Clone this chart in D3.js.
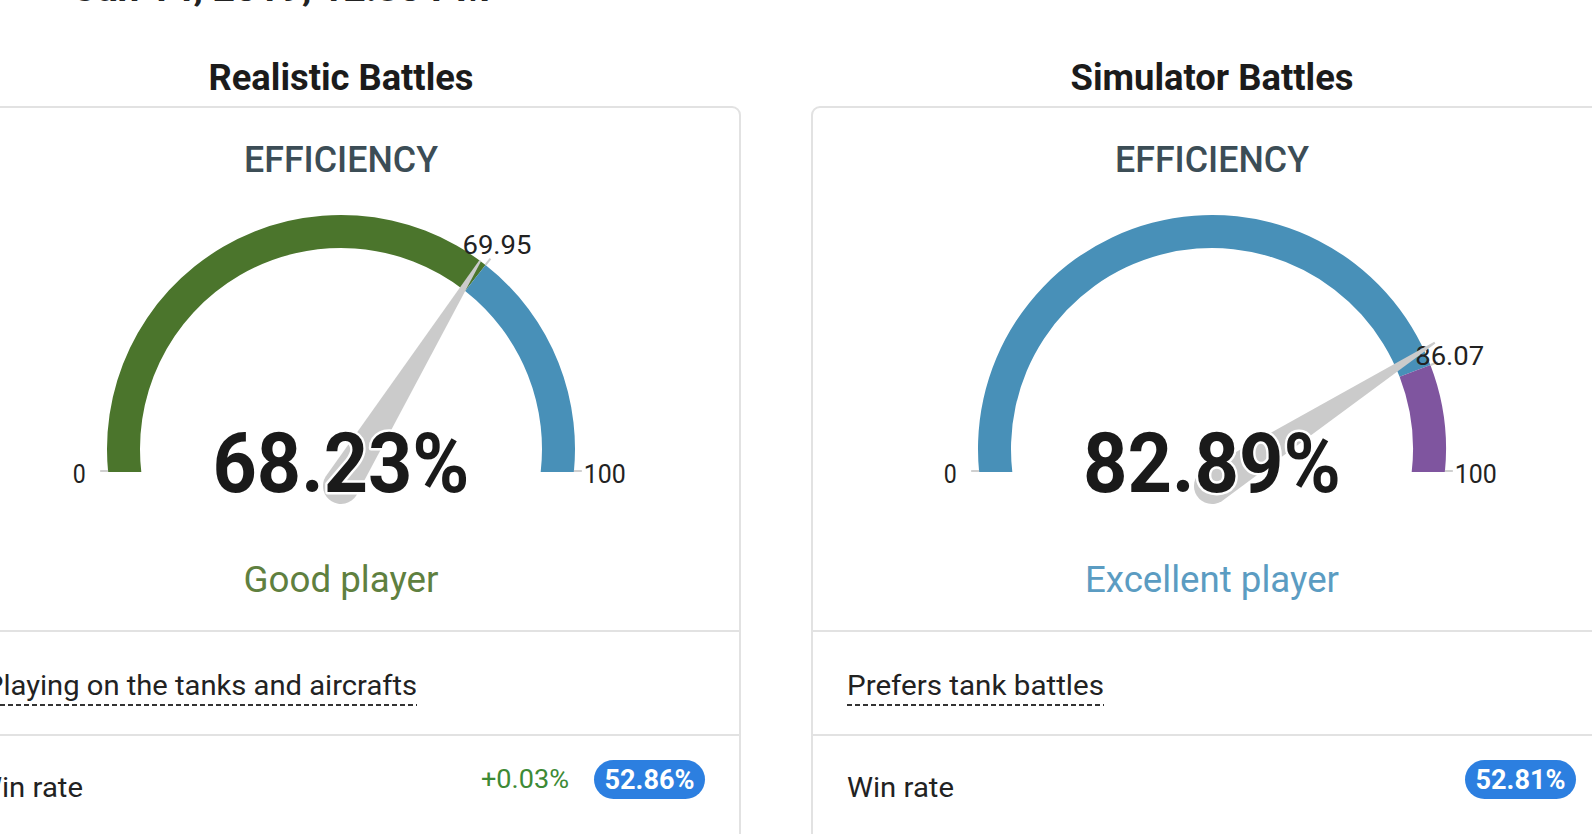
<!DOCTYPE html>
<html>
<head>
<meta charset="utf-8">
<script src="https://cdn.jsdelivr.net/npm/d3@7/dist/d3.min.js"></script>
<style>
  html, body { margin: 0; padding: 0; background: #ffffff; overflow: hidden; }
  svg { display: block; font-family: Roboto, "Noto Sans", Arial, sans-serif; }
</style>
</head>
<body>
<script>
// ---------- data ----------
const timestamp = "Jan 14, 2019, 12:30 PM";
const modes = ["Realistic Battles", "Simulator Battles"];
const efficiency = [68.23, 82.89];          // needle / big number
const thresholds = [69.95, 86.07];          // band boundary (next tier)
const axisTicks = [0, 100];                 // gauge min / max
const lowerTier = ["good", "excellent"];
const upperTier = ["excellent", "outstanding"];
const ratings = ["Good player", "Excellent player"];
const ratingTier = ["good", "excellent"];
const preferences = ["Playing on the tanks and aircrafts", "Prefers tank battles"];
const winRates = [52.86, 52.81];
const winRateDeltas = ["+0.03%", ""];

// ---------- styles ----------
const tierColor = { good: "#4b752c", excellent: "#4890b8", outstanding: "#7f559f" };
const ratingColor = { good: "#5f803f", excellent: "#5b9cc2" };

const W = 1592, H = 834;
const svg = d3.select("body").append("svg").attr("width", W).attr("height", H);

// timestamp (mostly cut off at the top, as in the reference)
svg.append("text").attr("x", 75).attr("y", 1)
  .attr("font-size", 34).attr("font-weight", 700).attr("fill", "#222")
  .attr("textLength", 415).attr("lengthAdjust", "spacingAndGlyphs")
  .text(timestamp);

const cards = [
  { cx: 341, left: -20, right: 740, titleW: 265, effW: 194, prefStart: -15, prefW: 432, winStart: -24 },
  { cx: 1212, left: 812, right: 1640, titleW: 283, effW: 194, prefStart: 847, prefW: 257, winStart: 847 }
];
const bigW = [257, 258];
const ratingW = [195, 254];

const gaugeCY = 449, R = 234, r = 201, bottomCut = 23;
const needleCY = 486, needleLen = 265, needleBase = 36;

const deg = Math.PI / 180;
const angle = d3.scaleLinear().domain([0, 100]).range([-95.6 * deg, 95.6 * deg]);
const needleAngle = d3.scaleLinear().domain([0, 100]).range([-87, 87]);
const arc = d3.arc().innerRadius(r).outerRadius(R);

const defs = svg.append("defs");
defs.append("clipPath").attr("id", "flatcut")
  .append("rect").attr("x", -400).attr("y", -400).attr("width", 800).attr("height", 400 + bottomCut);

modes.forEach((mode, i) => {
  const c = cards[i];
  const g = svg.append("g");

  // title
  g.append("text").attr("x", c.cx).attr("y", 90).attr("text-anchor", "middle")
    .attr("font-size", 36).attr("font-weight", 700).attr("fill", "#1b1b1b")
    .attr("textLength", c.titleW).attr("lengthAdjust", "spacingAndGlyphs")
    .text(mode);

  // card
  g.append("rect").attr("x", c.left).attr("y", 107).attr("width", c.right - c.left)
    .attr("height", 800).attr("rx", 8).attr("fill", "#fff")
    .attr("stroke", "#e2e2e2").attr("stroke-width", 2);
  [631, 735].forEach(y => {
    g.append("line").attr("x1", c.left).attr("x2", c.right).attr("y1", y).attr("y2", y)
      .attr("stroke", "#e2e2e2").attr("stroke-width", 2);
  });

  g.append("text").attr("x", c.cx).attr("y", 172).attr("text-anchor", "middle")
    .attr("font-size", 36).attr("font-weight", 500).attr("fill", "#3c4d56")
    .attr("textLength", c.effW).attr("lengthAdjust", "spacingAndGlyphs")
    .text("EFFICIENCY");

  // gauge bands (flat bottom ends)
  const gg = g.append("g").attr("transform", `translate(${c.cx},${gaugeCY})`);
  const bands = [
    { from: 0, to: thresholds[i], tier: lowerTier[i] },
    { from: thresholds[i], to: 100, tier: upperTier[i] }
  ];
  gg.append("g").attr("clip-path", "url(#flatcut)")
    .selectAll("path.band").data(bands).join("path").attr("class", "band")
    .attr("d", d => arc({
      startAngle: d.from === 0 ? angle(d.from) - 3 * deg : angle(d.from),
      endAngle: d.to === 100 ? angle(d.to) + 3 * deg : angle(d.to)
    }))
    .attr("fill", d => tierColor[d.tier]);

  // ticks + labels
  const tickVals = [axisTicks[0], thresholds[i], axisTicks[1]];
  gg.selectAll("line.tick").data(tickVals).join("line").attr("class", "tick")
    .attr("x1", d => R * Math.sin(angle(d))).attr("y1", d => Math.min(-R * Math.cos(angle(d)), bottomCut - 1))
    .attr("x2", d => (R + 8) * Math.sin(angle(d))).attr("y2", d => Math.min(-(R + 8) * Math.cos(angle(d)), bottomCut - 1))
    .attr("stroke", "#cfcfcf").attr("stroke-width", 2);
  gg.selectAll("text.tl").data(tickVals).join("text").attr("class", "tl")
    .attr("x", d => 259 * Math.sin(angle(d)) + (d === 0 ? -4 : d === 100 ? 6 : -4))
    .attr("y", d => -259 * Math.cos(angle(d)) + 9)
    .attr("text-anchor", "middle").attr("font-size", 26).attr("fill", "#222")
    .attr("textLength", d => d === 0 ? 13 : d === 100 ? 42 : 69)
    .attr("lengthAdjust", "spacingAndGlyphs")
    .text(d => d3.format("")(d));

  // needle
  const ng = g.append("g").attr("transform", `translate(${c.cx},${needleCY}) rotate(${needleAngle(efficiency[i])})`);
  const hb = needleBase / 2;
  ng.append("path")
    .attr("d", `M${-hb},0 L-1,${-needleLen} L1,${-needleLen} L${hb},0 A${hb},${hb} 0 0 1 ${-hb},0 Z`)
    .attr("fill", "#cbcbcb");

  // big value
  g.append("text").attr("x", c.cx).attr("y", 492).attr("text-anchor", "middle")
    .attr("font-size", 84).attr("font-weight", 700).attr("fill", "#1a1a1a")
    .attr("stroke", "#fff").attr("stroke-width", 5).attr("paint-order", "stroke")
    .attr("stroke-linejoin", "round")
    .attr("textLength", bigW[i]).attr("lengthAdjust", "spacingAndGlyphs")
    .text(d3.format(".2f")(efficiency[i]) + "%");

  // rating
  g.append("text").attr("x", c.cx).attr("y", 592).attr("text-anchor", "middle")
    .attr("font-size", 36).attr("fill", ratingColor[ratingTier[i]])
    .attr("textLength", ratingW[i]).attr("lengthAdjust", "spacingAndGlyphs")
    .text(ratings[i]);

  // preference
  g.append("text").attr("x", c.prefStart).attr("y", 695)
    .attr("font-size", 28).attr("fill", "#222")
    .attr("textLength", c.prefW).attr("lengthAdjust", "spacingAndGlyphs")
    .text(preferences[i]);
  g.append("line").attr("x1", Math.max(c.prefStart, 0)).attr("x2", c.prefStart + c.prefW)
    .attr("y1", 705).attr("y2", 705).attr("stroke", "#333").attr("stroke-width", 2)
    .attr("stroke-dasharray", "5,3");

  // win rate
  g.append("text").attr("x", c.winStart).attr("y", 797)
    .attr("font-size", 28).attr("fill", "#222")
    .attr("textLength", 107).attr("lengthAdjust", "spacingAndGlyphs")
    .text("Win rate");
  if (winRateDeltas[i]) {
    g.append("text").attr("x", 569).attr("y", 788).attr("text-anchor", "end")
      .attr("font-size", 25).attr("fill", "#3d8a35")
      .attr("textLength", 88).attr("lengthAdjust", "spacingAndGlyphs")
      .text(winRateDeltas[i]);
  }
  const bx = i === 0 ? 594 : 1465;
  const bw = 111;
  g.append("rect").attr("x", bx).attr("y", 760).attr("width", bw).attr("height", 39)
    .attr("rx", 19.5).attr("fill", "#2c7fe0");
  g.append("text").attr("x", bx + bw / 2).attr("y", 789).attr("text-anchor", "middle")
    .attr("font-size", 27).attr("font-weight", 700).attr("fill", "#fff")
    .attr("textLength", 90).attr("lengthAdjust", "spacingAndGlyphs")
    .text(d3.format(".2f")(winRates[i]) + "%");
});
</script>
</body>
</html>
